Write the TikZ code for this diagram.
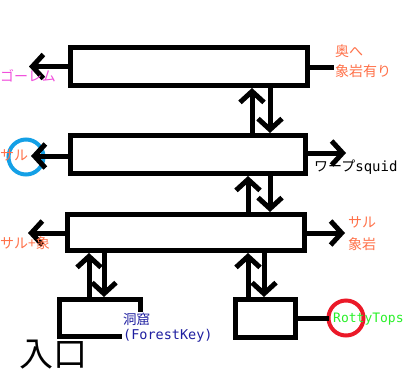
\documentclass[tikz,border=0pt]{standalone}
\usepackage{fontspec}
\setmainfont{Noto Sans CJK JP}
\setmonofont{DejaVu Sans Mono}
\usepackage{tikz}
\usetikzlibrary{arrows.meta, positioning}
\definecolor{MapOrange}{RGB}{255,112,72}
\definecolor{MapPink}{RGB}{240,80,220}
\definecolor{MapGreen}{RGB}{40,240,40}
\definecolor{MapNavy}{RGB}{30,30,160}
\definecolor{MapBlue}{RGB}{20,160,230}
\definecolor{MapRed}{RGB}{235,25,40}

\begin{document}
\begin{tikzpicture}[x=1pt, y=-1pt,
      room/.style={rectangle, draw, line width=5pt, inner sep=0pt},
      arr/.style={line width=5pt, -{Straight Barb[length=11pt, width=24pt]}},
      ring/.style={circle, line width=4pt, inner sep=0pt, minimum size=35pt},
      lbl/.style={font=\fontsize{14}{20}\selectfont, inner sep=0pt, align=left}
    ]
    \useasboundingbox (0,0) rectangle (403,378);

    %--- Rooms ---
    \node[room, minimum width=237pt, minimum height=38pt] (deep) at (189,66.5) {};
    \node[room, minimum width=235pt, minimum height=38pt] (warp) at (188,154.5) {};
    \node[room, minimum width=237pt, minimum height=36pt] (hub)  at (186,232.5) {};
    \node[room, minimum width=81pt,  minimum height=37pt] (cave) at (100,318) {};
    \node[room, minimum width=60pt,  minimum height=38pt] (rotty) at (265.5,318.5) {};

    %--- Up / down between rooms ---
    \foreach \lo/\hi/\xu/\xd in {warp/deep/252/270, hub/warp/248/270,
                                 cave/hub/89/104, rotty/hub/248/264} {
      \draw[arr] (\lo.north -| \xu,0) -- (\hi.south -| \xu,0);
      \draw[arr] (\hi.south -| \xd,0) -- (\lo.north -| \xd,0);
    }

    %--- Exits ---
    \coordinate (golemend) at (29,66.5);
    \coordinate (deepend)  at (334,67);
    \coordinate (monkeyend) at (31,156);
    \coordinate (squidend) at (346,153);
    \coordinate (hubwest)  at (28,233);
    \coordinate (hubeast)  at (345,233);
    \coordinate (rottyend) at (329,318.5);

    \node[ring, draw=MapBlue] (monkeyring) at (26,157) {};
    \node[ring, draw=MapRed]  (rottyring)  at (346,318) {};

    \draw[arr] (deep.west) -- (golemend);
    \draw[line width=5pt] (deep.east |- deepend) -- (deepend);
    \draw[arr] (warp.west |- monkeyend) -- (monkeyend);
    \draw[arr] (warp.east |- squidend) -- (squidend);
    \draw[arr] (hub.west |- hubwest) -- (hubwest);
    \draw[arr] (hub.east |- hubeast) -- (hubeast);
    \draw[line width=5pt] (rotty.east |- rottyend) -- (rottyend);

    %--- Labels ---
    \node[lbl, MapPink, anchor=west] (golemtxt) at (0,76) {ゴーレム};
    \node[lbl, MapOrange, anchor=north west] (deeptxt) at (335,45) {奥へ\\象岩有り};
    \node[lbl, MapOrange, anchor=west] (monkeytxt) at (0,155) {サル};
    \node[lbl, anchor=west] (squidtxt) at (314,167) {ワープ{\ttfamily squid}};
    \node[lbl, MapOrange, anchor=west] (bothtxt) at (0,243) {サル+象};
    \node[lbl, MapOrange, anchor=north west, font=\fontsize{14}{22}\selectfont]
          (rocktxt) at (348,216) {サル\\象岩};
    \node[lbl, MapNavy, anchor=north west, fill=white, inner sep=1pt,
          font=\fontsize{13.5}{15}\selectfont]
          (cavetxt) at (122,312) {洞窟\\{\ttfamily (ForestKey)}};
    \node[lbl, MapGreen, anchor=west, font=\ttfamily\fontsize{13}{15}\selectfont]
          (rottytxt) at (333,319) {RottyTops};

    \node[font=\fontsize{34}{34}\selectfont, inner sep=0pt] (entrance) at (53,355) {入口};
  \end{tikzpicture}
\end{document}
